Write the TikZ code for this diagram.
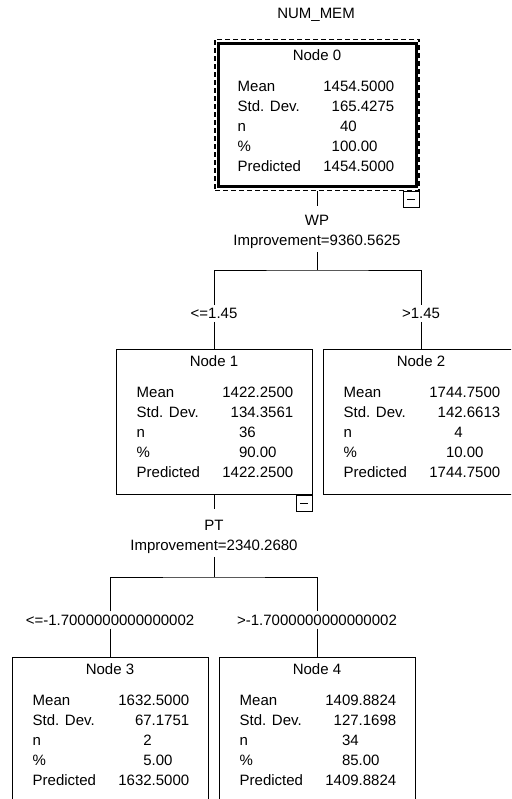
\documentclass[tikz,border=0pt]{standalone}
\usepackage{fontspec}
\setmainfont{Liberation Sans}
\usepackage{array}
\usetikzlibrary{positioning}

% statistics block of one tree node (integer part & fraction)
\newcommand{\statrows}[5]{%
  \begin{tabular}{@{}p{80pt}@{}>{\raggedleft\arraybackslash}p{39pt}@{}l@{}}
    Mean      & #1 \\
    Std. Dev. & #2 \\
    n         & #3 \\
    \%        & #4 \\
    Predicted & #5
  \end{tabular}}

\tikzset{
  treebox/.style={draw, line width=1pt, minimum width=196pt, minimum height=145pt, inner sep=0pt},
  rootbox/.style={treebox, line width=3pt, minimum width=198pt, minimum height=143pt},
  selbox/.style={draw, line width=1.2pt, dash pattern=on 5pt off 3pt, minimum width=204pt, minimum height=151pt, inner sep=0pt},
  boxtitle/.style={inner sep=0pt, text height=11pt, text depth=0pt},
  boxstats/.style={inner sep=0pt},
  collapse/.style={draw, line width=1pt, minimum size=16pt, inner sep=0pt, anchor=north east},
  splitlabel/.style={align=center, inner xsep=2pt, inner ysep=3pt},
  condlabel/.style={inner sep=3pt},
  link/.style={line width=1pt},
}

\begin{document}
\begin{tikzpicture}[x=1pt, y=-1pt, font=\fontsize{15}{20}\selectfont]
  \useasboundingbox (0,0) rectangle (511,799);
  \clip (0,0) rectangle (511,799);
  %
  \node[inner sep=0pt] (target) at (316,15) {NUM\_MEM};
  %
  % root node
  \node[rootbox] (n0) at (317,115.5) {};
  \node[selbox] (n0sel) at (317,115) {};
  \node[boxtitle, below=7pt of n0.north] (h0) {Node 0};
  \node[boxstats, below right=35pt and 21pt of n0.north west] (t0)
    {\statrows{1454&.5000}{165&.4275}{40&}{100&.00}{1454&.5000}};
  \node[collapse] (m0) at (n0sel.south east) {\rule{8pt}{1pt}};
  %
  % first split
  \node[splitlabel] (sp0) at (317,232) {WP\\Improvement=9360.5625};
  \coordinate (j0) at (317,270);
  \node[condlabel] (c1) at (214,313.5) {<=1.45};
  \node[condlabel] (c2) at (421,313.5) {>1.45};
  %
  \node[treebox] (n1) at (214,421.5) {};
  \node[boxtitle, below=7pt of n1.north] (h1) {Node 1};
  \node[boxstats, below right=35pt and 21pt of n1.north west] (t1)
    {\statrows{1422&.2500}{134&.3561}{36&}{90&.00}{1422&.2500}};
  \node[collapse] (m1) at (n1.south east) {\rule{8pt}{1pt}};
  %
  \node[treebox] (n2) at (421,421.5) {};
  \node[boxtitle, below=7pt of n2.north] (h2) {Node 2};
  \node[boxstats, below right=35pt and 21pt of n2.north west] (t2)
    {\statrows{1744&.7500}{142&.6613}{4&}{10&.00}{1744&.7500}};
  %
  % second split
  \node[splitlabel] (sp1) at (214,537) {PT\\Improvement=2340.2680};
  \coordinate (j1) at (214,577);
  \node[condlabel] (c3) at (110,620) {<=-1.7000000000000002};
  \node[condlabel] (c4) at (317,620) {>-1.7000000000000002};
  %
  \node[treebox] (n3) at (110,729.5) {};
  \node[boxtitle, below=7pt of n3.north] (h3) {Node 3};
  \node[boxstats, below right=35pt and 21pt of n3.north west] (t3)
    {\statrows{1632&.5000}{67&.1751}{2&}{5&.00}{1632&.5000}};
  %
  \node[treebox] (n4) at (317,729.5) {};
  \node[boxtitle, below=7pt of n4.north] (h4) {Node 4};
  \node[boxstats, below right=35pt and 21pt of n4.north west] (t4)
    {\statrows{1409&.8824}{127&.1698}{34&}{85&.00}{1409&.8824}};
  %
  % connectors
  \draw[link, shorten >=6pt] (n0sel) -- (sp0);
  \draw[link] (sp0) -- (j0);
  \draw[link] (c1) |- (j0) -| (c2);
  \draw[link] (c1) -- (n1);
  \draw[link] (c2) -- (n2);
  %
  \draw[link, shorten >=8pt] (n1) -- (sp1);
  \draw[link] (sp1) -- (j1);
  \draw[link] (c3) |- (j1) -| (c4);
  \draw[link] (c3) -- (n3);
  \draw[link] (c4) -- (n4);
\end{tikzpicture}
\end{document}
